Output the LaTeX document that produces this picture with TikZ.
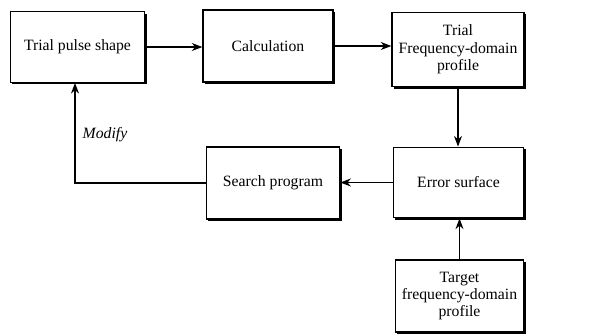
\documentclass[tikz,border=0pt]{standalone}
\usepackage{fontspec}
\setmainfont{Liberation Serif}
\usetikzlibrary{arrows.meta,shadows}
\begin{document}
\begin{tikzpicture}[x=0.75pt,y=-0.75pt,
  blk/.style={draw,line width=0.9pt,fill=white,align=center,inner sep=1pt,
    font=\fontsize{11.8}{13}\selectfont,
    drop shadow={shadow xshift=1.6pt,shadow yshift=-1.6pt,fill=black,opacity=1}},
  conn/.style={line width=0.9pt},
  arr/.style={conn,-{Stealth[length=8pt,width=6pt]}}]
\useasboundingbox (0,0) rectangle (616,333);
\node[blk,minimum width=101pt,minimum height=53pt] (b1) at (77.5,47) {Trial pulse shape};
\node[blk,minimum width=97.5pt,minimum height=54pt] (b2) at (268,46) {Calculation};
\node[blk,minimum width=99pt,minimum height=56pt] (b3) at (458,49.5) {Trial\\Frequency-domain\\profile};
\node[blk,minimum width=98pt,minimum height=53pt] (es) at (458.5,182.5) {Error surface};
\node[blk,minimum width=100pt,minimum height=54pt] (sp) at (273,183) {Search program};
\node[blk,minimum width=96.5pt,minimum height=54pt] (tg) at (459.5,296) {Target\\frequency-domain\\profile};
\coordinate (c) at (75,183);
\draw[arr] (b1.east) -- (b1.east -| b2.west);
\draw[arr] (b2.east) -- (b2.east -| b3.west);
\draw[arr] (b3.south) -- (b3.south |- es.north);
\draw[arr] (es.west) -- (es.west -| sp.east);
\draw[arr] (tg.north) -- (tg.north |- es.south);
\draw[arr] (sp.west) -- (c) -- (c |- b1.south);
\node[anchor=west,font=\fontsize{11.8}{13}\selectfont\itshape] (mod) at (78,135) {Modify};
\end{tikzpicture}
\end{document}
